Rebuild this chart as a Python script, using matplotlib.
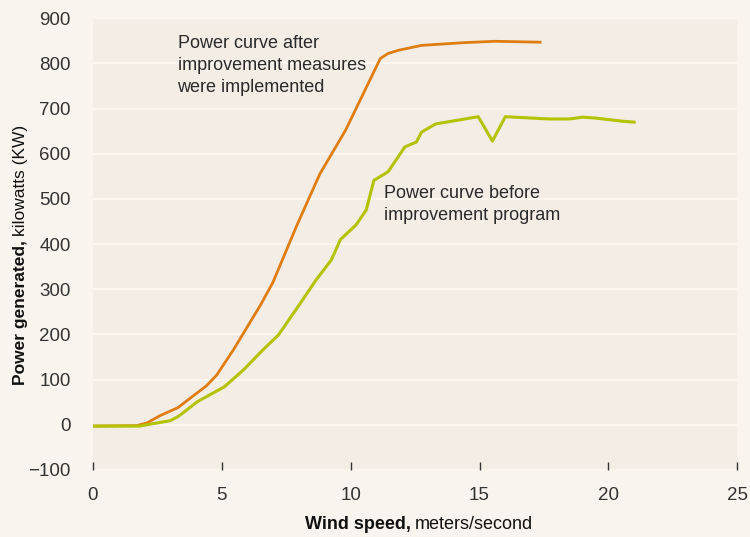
import matplotlib
matplotlib.use("Agg")
import matplotlib.pyplot as plt

plt.rcParams['font.family'] = ['Liberation Sans', 'DejaVu Sans']

# power curve after improvement measures (orange)
after_x = [0, 1.7, 2.1, 2.6, 3.3, 3.8, 4.4, 4.8, 5.45, 6.5, 6.98,
           7.9, 8.8, 9.8, 10.7, 11.15, 11.45, 11.85, 12.75, 14.4, 15.6, 17.35]
after_y = [-3, -2, 4, 20, 38, 60, 86, 110, 166, 265, 315,
           440, 555, 652, 758, 811, 822, 829, 840, 846, 849, 847]

# power curve before improvement program (green)
before_x = [0, 1.8, 2.5, 3.0, 3.3, 3.6, 4.05, 5.1, 5.85, 6.6, 7.2, 7.95,
            8.65, 9.25, 9.6, 10.2, 10.6, 10.9, 11.45, 12.1, 12.55, 12.75,
            13.3, 14.95, 15.5, 16.0, 17.7, 18.5, 19.0, 19.5, 20.55, 21.0]
before_y = [-3, -3, 4, 9, 18, 31, 51, 84, 122, 166, 199, 261,
            320, 365, 410, 442, 475, 541, 560, 615, 626, 648,
            666, 682, 628, 682, 677, 677, 681, 679, 672, 670]

x_ticks = [0, 5, 10, 15, 20, 25]
y_ticks = [-100, 0, 100, 200, 300, 400, 500, 600, 700, 800, 900]

fig = plt.figure(figsize=(7.5, 5.37), dpi=100, facecolor='#f9f5ee')
ax = fig.add_axes([0.124, 0.125, 0.859, 0.841])
ax.set_facecolor('#f3ede6')

for y in y_ticks:
    ax.axhline(y, color='#fbf7ef', lw=1.5, zorder=1)

ax.plot(after_x, after_y, color='#e07d10', lw=2.0, zorder=3)
ax.plot(before_x, before_y, color='#b4c300', lw=2.2, zorder=3)

ax.set_xlim(0, 25)
ax.set_ylim(-100, 900)
ax.set_xticks(x_ticks)
ax.set_yticks(y_ticks)
ax.tick_params(axis='y', length=0, labelsize=13.5, labelcolor='#333333', pad=16)
ax.tick_params(axis='x', direction='in', length=6, width=1, color='#333333',
               labelsize=13.5, labelcolor='#333333', pad=12)
ax.set_yticklabels([str(v).replace('-', '\u2212') for v in y_ticks])
for s in ax.spines.values():
    s.set_visible(False)

ax.text(3.28, 862, "Power curve after\nimprovement measures\nwere implemented",
        fontsize=13, color='#2a2a2a', va='top', ha='left', linespacing=1.38)
ax.text(11.3, 530, "Power curve before\nimprovement program",
        fontsize=13, color='#2a2a2a', va='top', ha='left', linespacing=1.38)

# axis titles: bold lead-in followed by regular units
fig.text(0.548, 0.014, "Wind speed,", fontsize=13, fontweight='bold',
         color='#111111', ha='right', va='baseline')
fig.text(0.553, 0.014, "meters/second", fontsize=13,
         color='#111111', ha='left', va='baseline')
fig.text(0.028, 0.553, "Power generated,", fontsize=12.5, fontweight='bold',
         color='#111111', ha='center', va='top', rotation=90)
fig.text(0.028, 0.560, "kilowatts (KW)", fontsize=12.5,
         color='#111111', ha='center', va='bottom', rotation=90)

fig.savefig("out.png", dpi=100, facecolor=fig.get_facecolor())
